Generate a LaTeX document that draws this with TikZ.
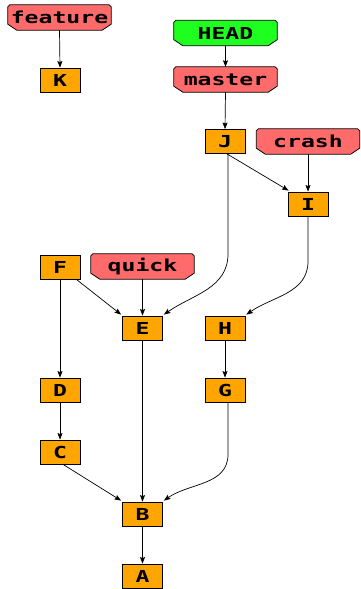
\documentclass[tikz,border=0pt]{standalone}
\usepackage{fontspec}
\newfontfamily\gvfont{DejaVu Sans Mono}[FakeStretch=1.4]
\usetikzlibrary{arrows.meta,backgrounds,calc}
\definecolor{commitfill}{HTML}{FFA500}
\definecolor{labred}{HTML}{FF6A6A}
\definecolor{labgreen}{HTML}{1FFF1F}
\begin{document}
\begin{tikzpicture}[x=1pt,y=-1pt,
  every node/.style={font=\gvfont\bfseries\fontsize{16.5}{16.5}\selectfont, text=black},
  commit/.style={draw=black, line width=0.8pt, fill=commitfill, minimum width=40pt, minimum height=24pt, inner sep=0pt},
  reflabel/.style={draw=none, minimum width=103pt, minimum height=25pt, inner sep=0pt},
  edge/.style={draw=black, line width=0.7pt, -{Stealth[length=6.5pt,width=5pt,inset=1pt]}}]
\useasboundingbox (0,0) rectangle (360,589);
% reference labels
\node[reflabel] (feature) at (59.5,17.5) {feature};
\node[reflabel] (HEAD) at (225.5,33) {HEAD};
\node[reflabel] (master) at (225.5,79.5) {master};
\node[reflabel] (crash) at (308,141.5) {crash};
\node[reflabel] (quick) at (142.5,266.5) {quick};
\begin{scope}[on background layer]
\foreach \n/\c in {feature/labred, HEAD/labgreen, master/labred, crash/labred, quick/labred}{
  \filldraw[fill=\c, draw=black, line width=0.8pt]
    ([yshift=-2pt]\n.north west) -- ([xshift=2pt]\n.north west) --
    ([xshift=-2pt]\n.north east) -- ([yshift=-2pt]\n.north east) --
    ([yshift=6pt]\n.south east) -- ([xshift=-9pt]\n.south east) --
    ([xshift=9pt]\n.south west) -- ([yshift=6pt]\n.south west) -- cycle;
}
\end{scope}
% commits
\node[commit] (K) at (60,80) {K};
\node[commit] (J) at (225,141.5) {J};
\node[commit] (I) at (308,204) {I};
\node[commit] (F) at (60,267) {F};
\node[commit] (E) at (142.5,328) {E};
\node[commit] (H) at (225,328) {H};
\node[commit] (D) at (60,390) {D};
\node[commit] (G) at (225,390) {G};
\node[commit] (C) at (60,452) {C};
\node[commit] (B) at (142.5,514) {B};
\node[commit] (A) at (142.5,576) {A};
% edges
\draw[edge] (feature.south) -- (K.north);
\draw[edge] (HEAD.south) -- (master.north);
\draw[edge] (master.south) -- (J.north);
\draw[edge] (crash.south) -- (I.north);
\draw[edge] ([xshift=2pt]J.south) -- ([xshift=1pt,yshift=1pt]I.north west);
\draw[edge] ([xshift=3pt]J.south) -- ++(0,100) to[out=-90,in=35] ([xshift=1pt,yshift=1pt]E.north east);
\draw[edge] (I.south) -- ++(0,45) to[out=-90,in=35] ([xshift=1pt,yshift=1pt]H.north east);
\draw[edge] ([xshift=-4pt]F.south east) -- ([xshift=-1pt,yshift=1pt]E.north west);
\draw[edge] (quick.south) -- (E.north);
\draw[edge] (F.south) -- (D.north);
\draw[edge] (D.south) -- (C.north);
\draw[edge] (H.south) -- (G.north);
\draw[edge] (E.south) -- (B.north);
\draw[edge] ([xshift=3pt]C.south) -- ([xshift=-1pt,yshift=1pt]B.north west);
\draw[edge] ([xshift=3pt]G.south) -- ++(0,52) to[out=-90,in=35] ([xshift=1pt,yshift=1pt]B.north east);
\draw[edge] (B.south) -- (A.north);
\end{tikzpicture}
\end{document}
